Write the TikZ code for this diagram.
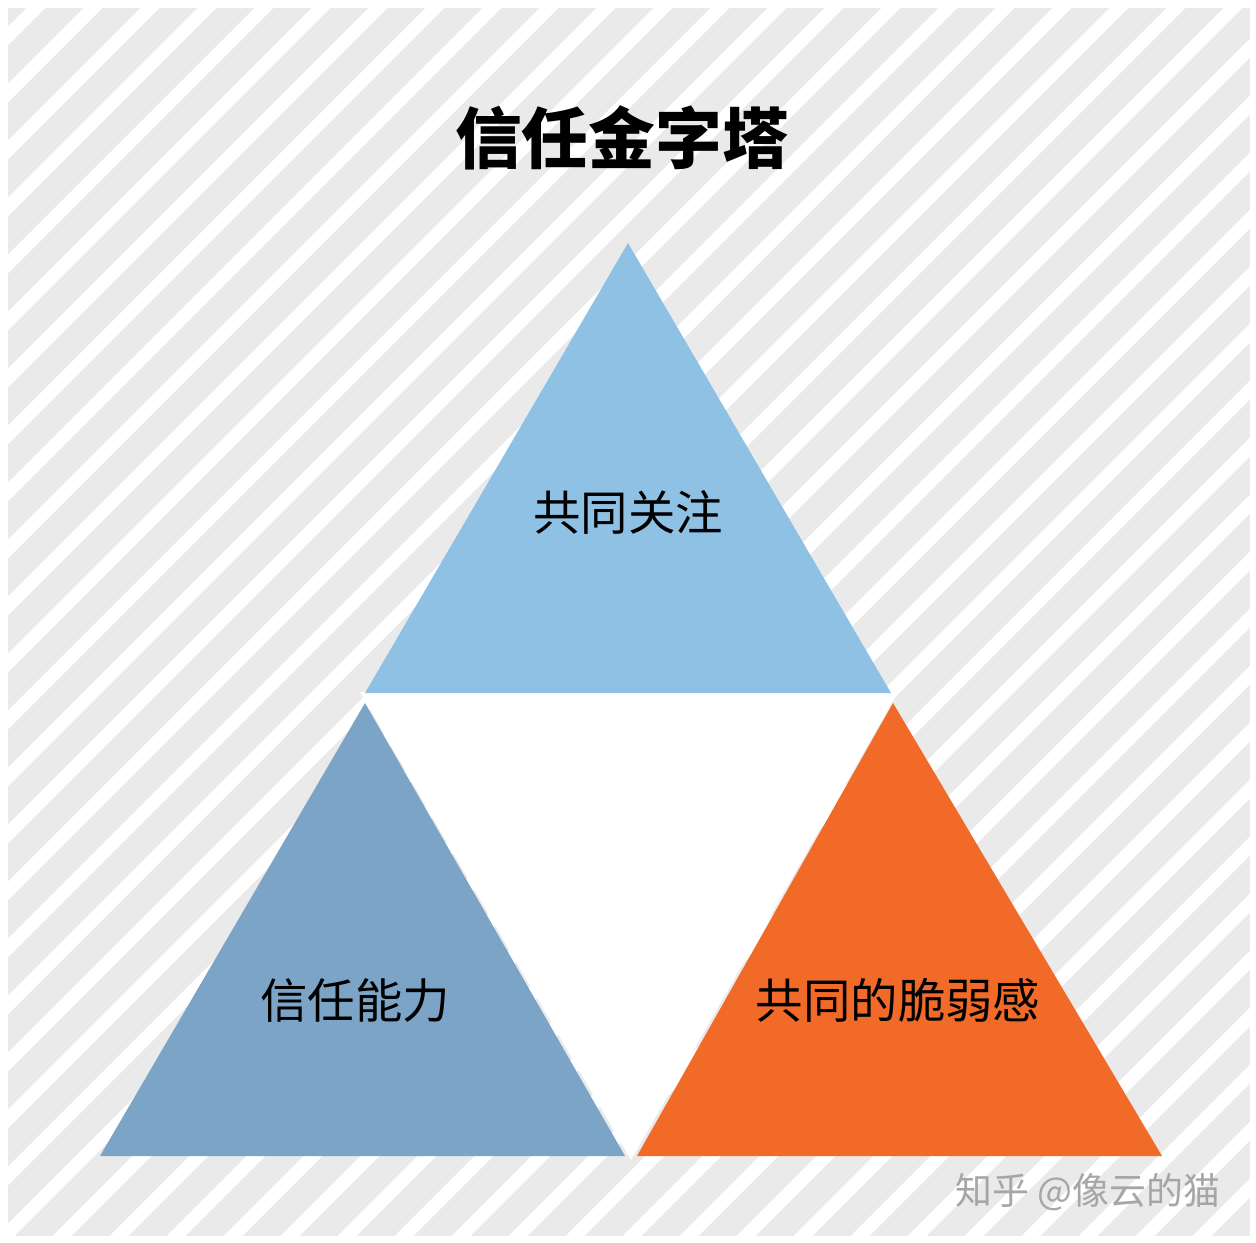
\documentclass[tikz,border=0pt]{standalone}
\usepackage{fontspec}
\newfontfamily\cjk{Noto Sans CJK SC}
\definecolor{topblue}{HTML}{8FC1E4}
\definecolor{leftblue}{HTML}{7BA4C7}
\definecolor{rightorange}{HTML}{F26A28}
\definecolor{stripegray}{HTML}{EAEAEA}
\begin{document}
\begin{tikzpicture}[x=0.02cm,y=-0.02cm,
    label/.style={font=\cjk\fontsize{27}{30}\selectfont},
    tri/.style={draw=none}]
                \useasboundingbox (0,0) rectangle (1256,1242);
                \fill[white] (0,0) rectangle (1256,1242);
                \begin{scope}
                    \clip (8,8) rectangle (1250,1236);
                    \fill[stripegray] (8,8) rectangle (1250,1236);
                    \foreach \c in {44,101,...,2540}
                        \draw[white, line width=7.5pt] (\c,0) -- (0,\c);
                \end{scope}

                \fill[white, tri] 
                    (360,692) -- (898,692) -- (631,1160) -- cycle;
                \fill[topblue, tri] 
                    (628,243) -- (365,693) -- (891,693) -- cycle;
                \fill[leftblue, tri] 
                    (365,703) -- (100,1156) -- (625,1156) -- cycle;
                \fill[rightorange, tri] 
                    (893,703) -- (637,1156) -- (1162,1156) -- cycle;

                \node[font=\cjk\bfseries\fontsize{38}{42}\selectfont] (title) 
                    at (622,138) {信任金字塔};
                \node[label] (focus) at (628,512) {共同关注};
                \node[label] (ability) at (355,1000) {信任能力};
                \node[label] (vulner) at (898,1000) {共同的脆弱感};
                \node[font=\cjk\fontsize{21}{24}\selectfont, text=black!35] (zhihu) 
                    at (1088,1192) {知乎 @像云的猫};
            \end{tikzpicture}
\end{document}
